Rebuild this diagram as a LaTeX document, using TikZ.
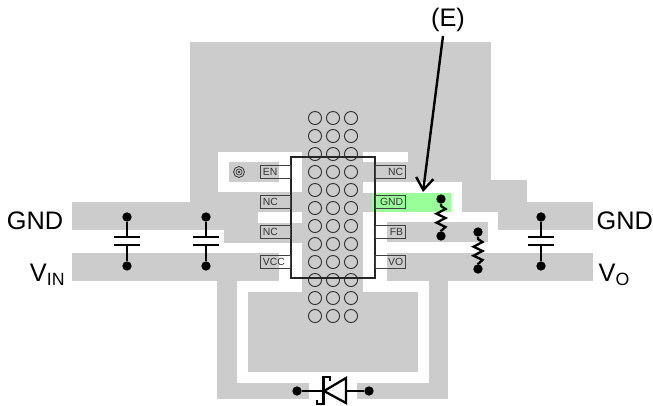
\documentclass[tikz,border=0pt]{standalone}
\usepackage{fontspec}
\setmainfont{Liberation Sans}
\usetikzlibrary{arrows.meta}
\definecolor{padgray}{RGB}{204,204,204}
\definecolor{padgreen}{RGB}{153,255,153}
\tikzset{
	pad/.style={fill=padgray, draw=none},
	gap/.style={fill=white, draw=none},
	via/.style={circle, draw=black!80, line width=0.7pt, minimum size=9.8pt, inner sep=0pt},
	pinleft/.style={draw=black!75, line width=0.8pt, minimum height=9pt, text width=19pt, inner sep=2pt, align=left, font=\fontsize{7.8}{8}\selectfont, text=black!80},
	pinright/.style={pinleft, align=right},
	term/.style={circle, fill=black, minimum size=7pt, inner sep=0pt},
	wire/.style={line width=1.7pt},
	netlabel/.style={font=\fontsize{19}{19}\selectfont}
}
\begin{document}
\begin{tikzpicture}[x=0.75pt, y=-0.75pt]
	\useasboundingbox (0,0) rectangle (653,405);
	% copper
	\fill[pad] (190,42) rectangle (491,202);
	\fill[pad] (491,180) rectangle (527,202);
	\fill[pad] (224,202) rectangle (302,243);
	\fill[pad] (462,180) rectangle (498,212);
	\fill[pad] (498,202) rectangle (593,230);
	\fill[pad] (72,202) rectangle (224,230);
	\fill[pad] (72,253) rectangle (279,281);
	\fill[pad] (387,253) rectangle (593,281);
	\fill[pad] (387,222) rectangle (488,242);
	\fill[pad] (302,152) rectangle (363,292);
	\fill[pad] (248,292) rectangle (418,372);
	% ring round the plate
	\fill[pad] (217,281) rectangle (237,399);
	\fill[pad] (429,281) rectangle (448,399);
	\fill[pad] (217,383) rectangle (309,399);
	\fill[pad] (357,383) rectangle (448,399);
	% cut-outs
	\fill[gap] (218,152) rectangle (302,192);
	\fill[gap] (258,212) rectangle (302,223);
	\fill[gap] (363,152) rectangle (408,162);
	\fill[gap] (363,182) rectangle (462,193);
	\fill[gap] (451,193) rectangle (462,212);
	\fill[pad] (363,193) rectangle (372,212);
	\fill[pad] (229,162) rectangle (279,182);
	\fill[padgreen] (372,193) rectangle (451,212);
	% vias
	\foreach \row in {0,...,11}
		\foreach \col in {0,1,2}
			\node[via] (via\row\col) at ({315+18*\col},{118+18*\row}) {};
	% IC
	\node[draw=black!85, line width=0.8pt, minimum width=63pt, minimum height=90.75pt, inner sep=0pt] (chip) at (333,217.5) {};
	\node[pinleft] (pinEN) at (275.5,172) {EN};
	\node[pinleft] (pinNCa) at (275.5,202) {NC};
	\node[pinleft] (pinNCb) at (275.5,232) {NC};
	\node[pinleft] (pinVCC) at (275.5,262) {VCC};
	\node[pinright] (pinNCc) at (390.5,172) {NC};
	\node[pinright] (pinGND) at (390.5,202) {GND};
	\node[pinright] (pinFB) at (390.5,232) {FB};
	\node[pinright] (pinVO) at (390.5,262) {VO};
	% mark on the EN pad
	\node[circle, draw=black!80, line width=0.6pt, minimum size=8.2pt, inner sep=0pt] (mark) at (239,172) {};
	\node[circle, draw=black!80, line width=0.5pt, minimum size=4.6pt, inner sep=0pt] (markring) at (239,172) {};
	\node[circle, fill=black!80, minimum size=2pt, inner sep=0pt] (markdot) at (239,172) {};
	% capacitors
	\foreach \name/\xc in {ca/127, cb/206, cc/541} {
		\node[term] (\name top) at (\xc,217) {};
		\node[term] (\name bot) at (\xc,266) {};
		\coordinate (\name a) at (\xc,237);
		\coordinate (\name b) at (\xc,245);
		\draw[wire] (\name top) -- (\name a);
		\draw[wire] (\name bot) -- (\name b);
		\draw[wire] ([xshift=-9.75pt]\name a) -- ([xshift=9.75pt]\name a);
		\draw[wire] ([xshift=-9.75pt]\name b) -- ([xshift=9.75pt]\name b);
	}
	% resistors
	\foreach \name/\xc/\yc in {ra/441/199, rb/478/232} {
		\node[term] (\name top) at (\xc,\yc) {};
		\node[term] (\name bot) at (\xc,\yc+37) {};
		\draw[wire] (\name top) -- (\xc,\yc+7) -- (\xc+4.5,\yc+10) -- (\xc-4.5,\yc+14.7) -- (\xc+4.5,\yc+19) -- (\xc-4.5,\yc+23.7) -- (\xc+4.5,\yc+28) -- (\xc,\yc+32) -- (\name bot);
	}
	% diode
	\node[term] (da) at (297,391) {};
	\node[term] (dk) at (369,391) {};
	\coordinate (dtip) at (324,391);
	\coordinate (dbase) at (346,391);
	\draw[wire] (da) -- (dtip);
	\draw[wire] (dbase) -- (dk);
	\draw[wire] (dtip) -- (346,378) -- (346,403) -- cycle;
	\draw[wire] (330,381) -- (330,377) -- (323.5,377) -- (323.5,404) -- (317,404) -- (317,400);
	% labels
	\node[netlabel, anchor=east] (gndl) at (68,221) {GND};
	\node[netlabel, anchor=east] (vin) at (70,275) {V\textsubscript{IN}};
	\node[netlabel, anchor=west] (gndr) at (592,221) {GND};
	\node[netlabel, anchor=west] (vo) at (594,275) {V\textsubscript{O}};
	\node[netlabel] (elabel) at (448,20) {(E)};
	\coordinate (etip) at (423,192);
	\draw[line width=1.8pt, -{Straight Barb[length=9pt, width=13pt]}] (443,36) -- (etip);
\end{tikzpicture}
\end{document}
